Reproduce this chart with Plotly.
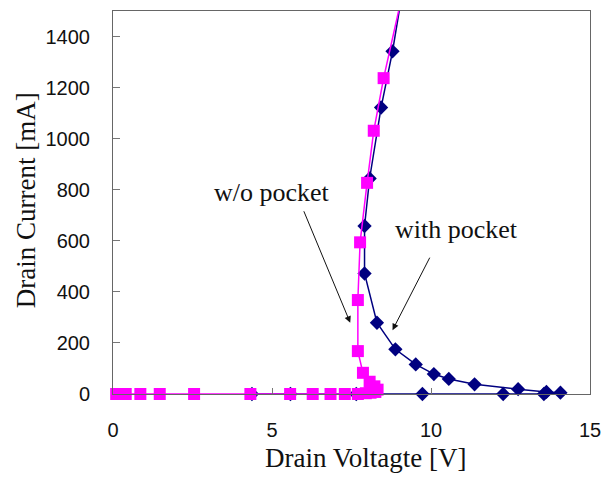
import plotly.graph_objects as go

# Drain current vs drain voltage, two device variants
with_pocket_v = [4.37, 5.58, 7.65, 9.73, 12.27, 13.55, 14.07, 13.63, 12.74, 11.37,
                 10.56, 10.09, 9.52, 8.88, 8.30, 7.91, 7.91, 8.07, 8.43, 8.79, 9.2]
with_pocket_i = [0, 0, 0, 0, 0, 0, 5, 8, 19, 38,
                 59, 78, 116, 175, 279, 472, 658, 844, 1122, 1342, 1650]

no_pocket_v = [0.1, 0.4, 0.86, 1.47, 2.55, 4.32, 5.57, 6.28, 6.84, 7.29, 7.70,
               7.95, 8.1, 8.25, 8.32, 8.22, 8.07, 7.86, 7.70, 7.70, 7.77, 7.99,
               8.20, 8.51, 9.25]
no_pocket_i = [0, 0, 0, 0, 0, 0, 0, 0, 0, 0, 0,
               3, 5, 8, 17, 30, 48, 83, 168, 368, 594, 827,
               1031, 1237, 1650]

x_ticks = [0, 5, 10, 15]
y_ticks = [0, 200, 400, 600, 800, 1000, 1200, 1400]

NAVY = "#000080"
MAGENTA = "#FF00FF"

fig = go.Figure()
fig.add_trace(go.Scatter(
    x=with_pocket_v, y=with_pocket_i, mode="lines+markers", name="with pocket",
    line=dict(color=NAVY, width=1.5),
    marker=dict(symbol="diamond", size=11, color=NAVY),
    cliponaxis=False,
))
fig.add_trace(go.Scatter(
    x=no_pocket_v, y=no_pocket_i, mode="lines+markers", name="w/o pocket",
    line=dict(color=MAGENTA, width=1.5),
    marker=dict(symbol="square", size=12, color=MAGENTA),
    cliponaxis=False,
))

tick_font = dict(family="Liberation Sans, Arial, sans-serif", size=20, color="#111")
serif = "Liberation Serif, Times New Roman, serif"

fig.update_xaxes(
    range=[0, 15], tickvals=x_ticks, ticks="inside", ticklen=6, tickcolor="#777",
    showline=True, linecolor="#666", linewidth=1, mirror=True,
    showgrid=False, zeroline=False, tickfont=tick_font, ticklabelstandoff=18,
)
fig.update_yaxes(
    range=[0, 1500], tickvals=y_ticks, ticks="inside", ticklen=7, tickcolor="#777",
    showline=True, linecolor="#666", linewidth=1, mirror=True,
    showgrid=False, zeroline=False, tickfont=tick_font, ticklabelstandoff=18,
)

annotations = [
    dict(text="Drain Voltagte [V]", x=0.53, y=-0.167, xref="paper", yref="paper",
         xanchor="center", yanchor="middle", showarrow=False,
         font=dict(family=serif, size=27, color="#111")),
    dict(text="Drain Current [mA]", x=-0.183, y=0.505, xref="paper", yref="paper",
         xanchor="center", yanchor="middle", textangle=-90, showarrow=False,
         font=dict(family=serif, size=27, color="#111")),
    dict(text="w/o pocket", x=5.0, y=790, xref="x", yref="y", showarrow=False,
         xanchor="center", yanchor="middle",
         font=dict(family=serif, size=26, color="#111")),
    dict(text="with pocket", x=10.8, y=645, xref="x", yref="y", showarrow=False,
         xanchor="center", yanchor="middle",
         font=dict(family=serif, size=26, color="#111")),
    dict(text="", x=7.46, y=279, xref="x", yref="y", ax=-47, ay=-113,
         showarrow=True, arrowhead=2, arrowsize=1.3, arrowwidth=1, arrowcolor="#111"),
    dict(text="", x=8.79, y=250, xref="x", yref="y", ax=38, ay=-74,
         showarrow=True, arrowhead=2, arrowsize=1.3, arrowwidth=1, arrowcolor="#111"),
]

fig.update_layout(
    width=611, height=480,
    margin=dict(l=113, r=17, t=10, b=86),
    paper_bgcolor="white", plot_bgcolor="white",
    showlegend=False, annotations=annotations,
)

fig.write_html("out.html")
